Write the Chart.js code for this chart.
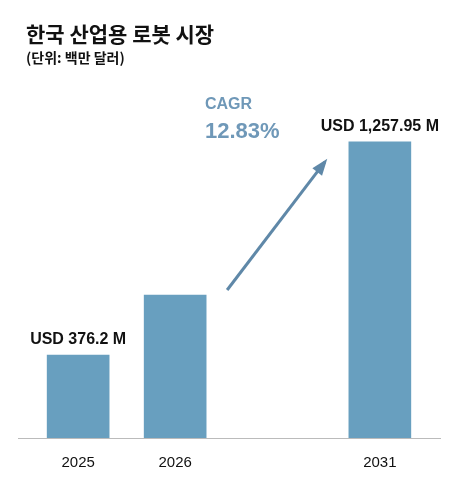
<!DOCTYPE html>
<html>
<head>
<meta charset="utf-8">
<script src="https://cdn.jsdelivr.net/npm/chart.js@4"></script>
<style>
  body { margin: 0; background: #fff; font-family: "Liberation Sans", "Noto Sans CJK KR", sans-serif; }
  #wrap { position: relative; width: 462px; height: 490px; }
  #title { position: absolute; left: 26px; top: 18px; font-size: 21px; font-weight: bold; color: #111; font-family: "Noto Sans CJK KR", sans-serif; }
  #sub { position: absolute; left: 26px; top: 47px; font-size: 14px; font-weight: bold; color: #111; font-family: "Noto Sans CJK KR", sans-serif; }
  canvas { position: absolute; left: 0; top: 0; }
</style>
</head>
<body>
<div id="wrap">
  <canvas id="chart" width="462" height="490"></canvas>
  <div id="title">한국 산업용 로봇 시장</div>
  <div id="sub">(단위: 백만 달러)</div>
</div>
<script>
// categories and values
var years = ['2025', '2026', '2031'];
var xPos = [0, 1, 3.11];
var values = [376.2, 648, 1342];
var valueLabels = ['USD 376.2 M', '', 'USD 1,257.95 M'];
var cagr = '12.83%';

var barColor = '#689fbf';

const labelPlugin = {
    id: 'labels',
    afterDatasetsDraw(chart) {
        const ctx = chart.ctx;
        const meta = chart.getDatasetMeta(0);
        ctx.save();
        ctx.fillStyle = '#111';
        ctx.font = 'bold 16px "Liberation Sans"';
        ctx.textAlign = 'center';
        meta.data.forEach((bar, i) => {
            if (valueLabels[i]) ctx.fillText(valueLabels[i], bar.x, bar.y - 11);
        });
        // CAGR arrow from 2026 bar to 2031 bar
        const b1 = meta.data[1], b2 = meta.data[2];
        const x1 = b1.x + 52, y1 = b1.y - 5;
        const x2 = b2.x - 55, y2 = b2.y + 20;
        ctx.strokeStyle = '#5f88a8';
        ctx.fillStyle = '#5f88a8';
        ctx.lineWidth = 3;
        ctx.beginPath();
        ctx.moveTo(x1, y1);
        ctx.lineTo(x2, y2);
        ctx.stroke();
        const ang = Math.atan2(y2 - y1, x2 - x1);
        ctx.beginPath();
        ctx.moveTo(x2 + 4 * Math.cos(ang), y2 + 4 * Math.sin(ang));
        ctx.lineTo(x2 - 14 * Math.cos(ang - 0.45), y2 - 14 * Math.sin(ang - 0.45));
        ctx.lineTo(x2 - 14 * Math.cos(ang + 0.45), y2 - 14 * Math.sin(ang + 0.45));
        ctx.closePath();
        ctx.fill();
        ctx.fillStyle = '#6f98b8';
        ctx.textAlign = 'left';
        ctx.font = 'bold 16px "Liberation Sans"';
        ctx.fillText('CAGR', 205, 109);
        ctx.font = 'bold 22px "Liberation Sans"';
        ctx.fillText(cagr, 205, 138);
        ctx.restore();
    }
};

new Chart(document.getElementById('chart'), {
    type: 'bar',
    data: {
        datasets: [{
            data: years.map((y, i) => ({ x: xPos[i], y: values[i] })),
            backgroundColor: barColor,
            barThickness: 62
        }]
    },
    options: {
        responsive: false,
        animation: false,
        layout: { padding: { left: 18, right: 22, top: 100, bottom: 10 } },
        plugins: { legend: { display: false }, tooltip: { enabled: false } },
        scales: {
            x: {
                type: 'linear',
                offset: false,
                min: -0.62,
                max: 3.73,
                afterBuildTicks: (axis) => { axis.ticks = xPos.map(v => ({ value: v })); },
                ticks: {
                    callback: (v) => years[xPos.indexOf(v)],
                    color: '#111',
                    font: { size: 15, family: 'Liberation Sans' },
                    padding: 8
                },
                grid: { display: false },
                border: { color: '#bbb', width: 1 }
            },
            y: { display: false, min: 0, max: 1532 }
        }
    },
    plugins: [labelPlugin]
});
</script>
</body>
</html>
